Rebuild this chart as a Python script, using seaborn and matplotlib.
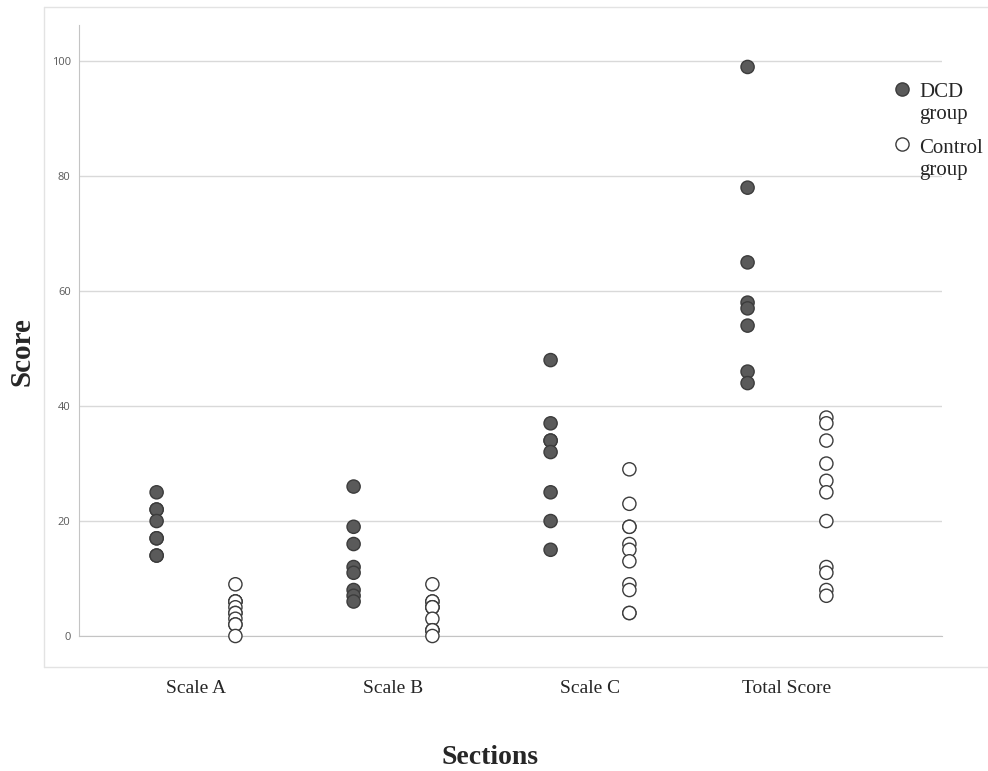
import numpy as np
import pandas as pd
import seaborn as sns
import matplotlib.pyplot as plt
from matplotlib.lines import Line2D

sections = ["Scale A", "Scale B", "Scale C", "Total Score"]
groups = ["DCD group", "Control group"]

# scores, one list per section and group
dcd_scale_a = [25, 22, 22, 20, 17, 17, 14, 14]
dcd_scale_b = [26, 19, 16, 12, 11, 8, 7, 6]
dcd_scale_c = [48, 37, 34, 34, 32, 25, 20, 15]
dcd_total = [99, 78, 65, 58, 57, 54, 46, 44]

control_scale_a = [9, 6, 6, 6, 5, 4, 4, 3, 2, 2, 0]
control_scale_b = [9, 6, 6, 5, 5, 5, 3, 1, 1, 1, 0]
control_scale_c = [29, 23, 19, 19, 16, 15, 13, 9, 8, 4, 4]
control_total = [38, 37, 34, 30, 27, 25, 20, 12, 11, 8, 7]

dcd_scores = [dcd_scale_a, dcd_scale_b, dcd_scale_c, dcd_total]
control_scores = [control_scale_a, control_scale_b, control_scale_c, control_total]

rows = []
for section, dcd, ctrl in zip(sections, dcd_scores, control_scores):
    for v in dcd:
        rows.append({"Section": section, "Group": groups[0], "Score": v})
    for v in ctrl:
        rows.append({"Section": section, "Group": groups[1], "Score": v})
df = pd.DataFrame(rows)

sns.set_style("white")
serif = "Liberation Serif"

fig = plt.figure(figsize=(9.88, 7.71), dpi=100)
ax = fig.add_axes([79 / 988, 135 / 771, 863 / 988, 611 / 771])

sns.stripplot(data=df, x="Section", y="Score", hue="Group", order=sections,
              hue_order=groups, dodge=True, jitter=False,
              palette={groups[0]: "#5a5a5a", groups[1]: "white"},
              edgecolor="#3c3c3c", linewidth=1, size=9.5, ax=ax,
              clip_on=False, zorder=3)

ax.set_ylim(0, 106.3)
ax.set_xlim(-0.594, 3.787)
ax.set_yticks(range(0, 101, 20))
ax.yaxis.grid(True, color="#d9d9d9", lw=1)
ax.set_axisbelow(True)
for side in ["top", "right"]:
    ax.spines[side].set_visible(False)
ax.spines["left"].set_color("#c4c4c4")
ax.spines["bottom"].set_color("#c4c4c4")

ax.tick_params(axis="y", length=0, pad=6, labelsize=8, labelcolor="#595959")
ax.tick_params(axis="x", length=0, pad=32)
for lbl in ax.get_yticklabels():
    lbl.set_family("Open Sans")
for lbl in ax.get_xticklabels():
    lbl.set_family(serif)
    lbl.set_fontsize(14)
ax.set_xlabel("")
ax.set_ylabel("")

handles, labels = ax.get_legend_handles_labels()
leg = ax.legend(handles, [l.replace(" ", "\n") for l in labels],
                loc="upper left", bbox_to_anchor=(885 / 988, 1 - 75 / 771),
                bbox_transform=fig.transFigure, frameon=False,
                prop={"family": serif, "size": 15}, handlelength=0.8,
                handletextpad=0.45, labelspacing=0.7, borderaxespad=0)
# put each legend marker level with the first line of its label
for h in leg.legend_handles:
    h.set_ydata(np.asarray(h.get_ydata(), dtype=float) + 10.5)

fig.text(490 / 988, 1 - 757 / 771, "Sections", ha="center", va="center",
         family=serif, fontsize=20, fontweight="bold")
fig.text(22 / 988, 1 - 352 / 771, "Score", ha="center", va="center",
         rotation=90, family=serif, fontsize=21, fontweight="bold")

# light frame around the chart area
frame = dict(color="#e3e3e3", lw=1, transform=fig.transFigure)
fig.add_artist(Line2D([44 / 988, 44 / 988], [1 - 7 / 771, 1 - 667 / 771], **frame))
fig.add_artist(Line2D([44 / 988, 1], [1 - 7 / 771, 1 - 7 / 771], **frame))
fig.add_artist(Line2D([44 / 988, 1], [1 - 667 / 771, 1 - 667 / 771], **frame))

fig.savefig("out.png", dpi=100)
